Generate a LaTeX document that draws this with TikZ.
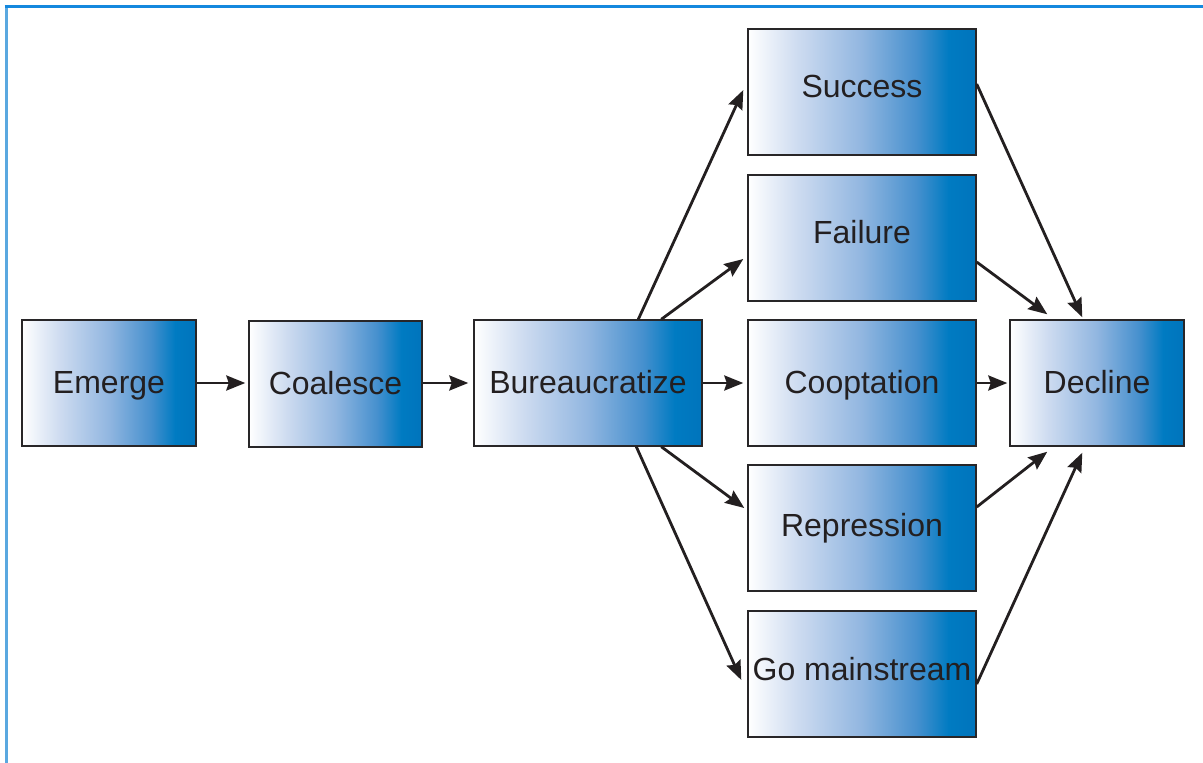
\documentclass[tikz,border=0pt]{standalone}
\usepackage{fontspec}
\setmainfont{Liberation Sans}
\usetikzlibrary{arrows.meta,calc}
\definecolor{txt}{RGB}{35,31,32}
\definecolor{edge}{RGB}{40,38,40}
\definecolor{frametop}{RGB}{20,136,222}
\definecolor{frameleft}{RGB}{90,168,224}
\pgfdeclarehorizontalshading{boxgrad}{100bp}{%
  color(0bp)=(white);
  color(25bp)=(white);
  color(36bp)=(rgb,255:red,205;green,219;blue,240);
  color(50bp)=(rgb,255:red,145;green,182;blue,224);
  color(62bp)=(rgb,255:red,70;green,144;blue,206);
  color(69bp)=(rgb,255:red,0;green,123;blue,194);
  color(75bp)=(rgb,255:red,0;green,116;blue,188);
  color(100bp)=(rgb,255:red,0;green,116;blue,188)}
\tikzset{
  stagebox/.style={draw=edge, line width=1.4pt, shading=boxgrad, rectangle,
    inner sep=0pt, minimum height=126pt, text=txt,
    text height=23pt, text depth=3pt,
    font=\fontsize{32pt}{36pt}\selectfont},
  flow/.style={draw=txt, line width=2.8pt,
    -{Stealth[length=19pt,width=15pt,inset=2.5pt]}}
}
\begin{document}
\begin{tikzpicture}[x=1pt,y=-1pt]
\useasboundingbox (0,0) rectangle (1203,763);
\draw[frameleft, line width=3pt] (6,6) -- (6,763);
\draw[frametop, line width=3pt] (4.5,6) -- (1203,6);

\node[stagebox, minimum width=174pt] (eme) at (109,383) {Emerge};
\node[stagebox, minimum width=173pt] (coa) at (335.5,384) {Coalesce};
\node[stagebox, minimum width=228pt] (bur) at (588,383) {Bureaucratize};
\node[stagebox, minimum width=228pt] (suc) at (862,92) {\raisebox{5pt}{Success}};
\node[stagebox, minimum width=228pt] (fai) at (862,238) {\raisebox{5pt}{Failure}};
\node[stagebox, minimum width=228pt] (coo) at (862,383) {Cooptation};
\node[stagebox, minimum width=228pt] (rep) at (862,528) {\raisebox{2pt}{Repression}};
\node[stagebox, minimum width=228pt] (gom) at (862,674) {\raisebox{4pt}{Go mainstream}};
\node[stagebox, minimum width=174pt] (dec) at (1097,383) {Decline};

\draw[flow] (eme.east) -- ($(coa.west)+(-3,-1)$);
\draw[flow] (coa.east |- eme.east) -- ($(bur.west)+(-5,0)$);
\draw[flow] (bur.east) -- ($(coo.west)+(-4,0)$);
\draw[flow] (coo.east) -- ($(dec.west)+(-2,0)$);

\draw[flow] ($(bur.north west)+(165,0)$) -- ($(suc.west)+(-4,-2)$);
\draw[flow] ($(bur.north west)+(188,0)$) -- ($(fai.west)+(-4,21)$);
\draw[flow] ($(bur.south west)+(188,0)$) -- ($(rep.west)+(-3,-20)$);
\draw[flow] ($(bur.south west)+(163,0)$) -- ($(gom.west)+(-6,6)$);

\draw[flow] ($(suc.east)+(0,-8)$) -- ($(dec.north west)+(73,-2)$);
\draw[flow] ($(fai.east)+(0,24)$) -- ($(dec.north west)+(38,-5)$);
\draw[flow] ($(rep.east)+(0,-21)$) -- ($(dec.south west)+(38,5)$);
\draw[flow] ($(gom.east)+(0,10)$) -- ($(dec.south west)+(73,6)$);
\end{tikzpicture}
\end{document}
